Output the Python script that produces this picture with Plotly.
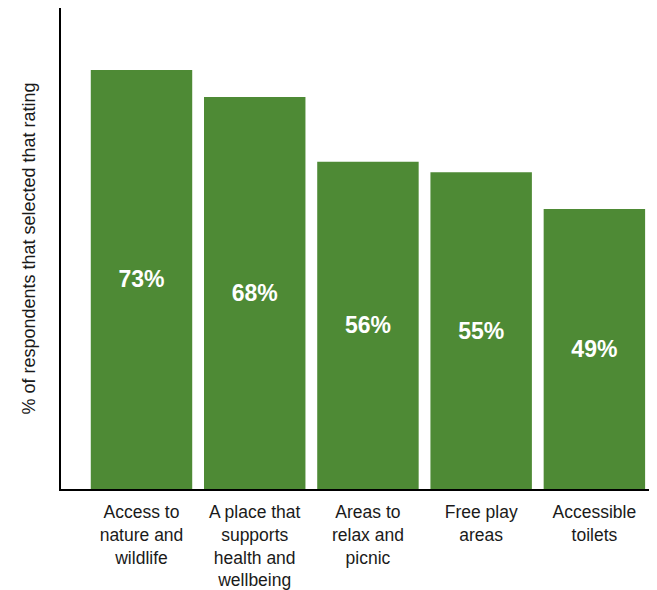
import plotly.graph_objects as go

categories = [
    "Access to<br>nature and<br>wildlife",
    "A place that<br>supports<br>health and<br>wellbeing",
    "Areas to<br>relax and<br>picnic",
    "Free play<br>areas",
    "Accessible<br>toilets",
]
values = [73.0, 68.3, 57.0, 55.2, 48.8]
labels = ["73%", "68%", "56%", "55%", "49%"]

GREEN = "#4e8a35"
FONT = "Liberation Sans, Arial, sans-serif"

fig = go.Figure(
    go.Bar(
        x=categories,
        y=values,
        text=labels,
        textposition="inside",
        insidetextanchor="middle",
        textangle=0,
        textfont=dict(family=FONT, size=23, color="white", weight="bold"),
        marker=dict(color=GREEN, line=dict(width=0)),
        hoverinfo="skip",
    )
)

# page body has an 8px default margin, so the figure is sized to fit the window
fig.update_layout(
    width=649,
    height=582,
    margin=dict(l=53, r=0, t=0, b=101, autoexpand=False),
    paper_bgcolor="white",
    plot_bgcolor="white",
    bargap=0.104,
    showlegend=False,
    font=dict(family=FONT, size=17.5, color="#1a1a1a"),
)

fig.update_xaxes(
    type="category",
    range=[-0.711, 4.553],
    showline=True,
    linecolor="black",
    linewidth=2,
    showgrid=False,
    ticks="",
    ticklabelstandoff=6,
    tickfont=dict(family=FONT, size=17.5, color="#1a1a1a"),
    zeroline=False,
    automargin=False,
)

fig.update_yaxes(
    range=[0, 83.8],
    showline=True,
    linecolor="black",
    linewidth=2,
    showgrid=False,
    showticklabels=False,
    ticks="",
    zeroline=False,
    automargin=False,
    title=dict(
        text="% of respondents that selected that rating",
        font=dict(family=FONT, size=18, color="#1a1a1a"),
        standoff=19,
    ),
)

fig.write_html("out.html")
